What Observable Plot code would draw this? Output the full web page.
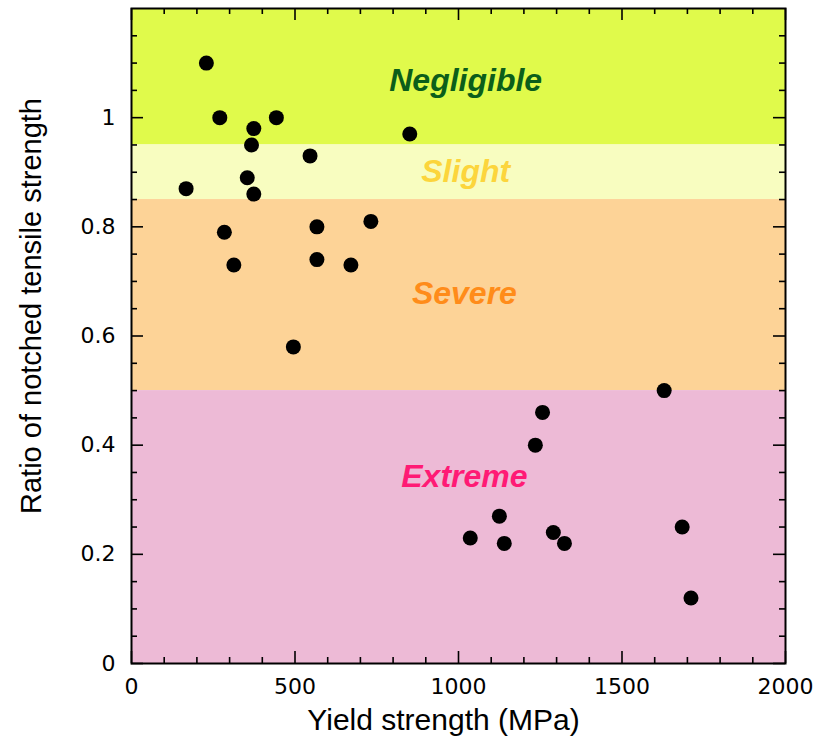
<!DOCTYPE html>
<html>
<head>
<meta charset="utf-8">
<script src="https://cdn.jsdelivr.net/npm/d3@7"></script>
<script src="https://cdn.jsdelivr.net/npm/@observablehq/plot@0.6"></script>
<style>
  html, body { margin: 0; padding: 0; background: #fff; }
  #chart svg { display: block; }
</style>
</head>
<body>
<div id="chart"></div>
<script>
// Data points: yield strength (MPa) vs ratio of notched tensile strength
const yieldStrength = [229, 270, 443, 374, 367, 851, 546, 354, 167, 374, 732, 284, 567, 313, 567, 671, 495,
                       1629, 1257, 1235, 1125, 1036, 1140, 1290, 1324, 1684, 1711];
const notchRatio    = [1.10, 1.00, 1.00, 0.98, 0.95, 0.97, 0.93, 0.89, 0.87, 0.86, 0.81, 0.79, 0.80, 0.73, 0.74, 0.73, 0.58,
                       0.50, 0.46, 0.40, 0.27, 0.23, 0.22, 0.24, 0.22, 0.25, 0.12];

// Sensitivity bands
const bandNames  = ["Negligible", "Slight", "Severe", "Extreme"];
const bandLow    = [0.95, 0.85, 0.50, 0.00];
const bandHigh   = [1.20, 0.95, 0.85, 0.50];
const bandFill   = ["#e0fa4b", "#f8fdc0", "#fdd397", "#edbad6"];
const labelColor = ["#0b5e1a", "#fcd53c", "#ff8c1a", "#ff1a75"];
const labelX     = [1022, 1022, 1018, 1018];
const labelY     = [1.068, 0.901, 0.678, 0.342];

// Ticks
const xMajor = [0, 500, 1000, 1500, 2000];
const xMinor = [100, 200, 300, 400, 600, 700, 800, 900, 1100, 1200, 1300, 1400, 1600, 1700, 1800, 1900];
const yMajor = [0, 0.2, 0.4, 0.6, 0.8, 1];
const yMinor = [0.05, 0.1, 0.15, 0.25, 0.3, 0.35, 0.45, 0.5, 0.55, 0.65, 0.7, 0.75, 0.85, 0.9, 0.95, 1.05, 1.1, 1.15];

const xTitle = "Yield strength (MPa)";
const yTitle = "Ratio of notched tensile strength";

const points = yieldStrength.map((x, i) => ({x, y: notchRatio[i]}));
const bands = bandNames.map((name, i) => ({name, lo: bandLow[i], hi: bandHigh[i], fill: bandFill[i],
  color: labelColor[i], lx: labelX[i], ly: labelY[i]}));

const W = 821, H = 748;
const mL = 131, mR = 36, mT = 8, mB = 85;
const pw = W - mL - mR, ph = H - mT - mB;
const major = 12, minor = 6;
const tickStroke = 1.6;

const chart = Plot.plot({
  width: W,
  height: H,
  marginLeft: mL,
  marginRight: mR,
  marginTop: mT,
  marginBottom: mB,
  style: {color: "#000", background: "#fff", fontFamily: "Liberation Sans, Arial, sans-serif"},
  x: {domain: [0, 2000], axis: null},
  y: {domain: [0, 1.2], axis: null},
  marks: [
    Plot.rect(bands, {y1: "lo", y2: "hi", fill: "fill"}),
    Plot.text(bands, {x: "lx", y: "ly", text: "name", fill: "color", fontSize: 32, fontWeight: "bold",
      fontStyle: "italic", fontFamily: "Liberation Sans, Arial, sans-serif"}),
    // ticks, inward, all four sides
    Plot.tickX(xMajor, {x: d => d, insetTop: ph - major, strokeWidth: tickStroke}),
    Plot.tickX(xMajor, {x: d => d, insetBottom: ph - major, strokeWidth: tickStroke}),
    Plot.tickX(xMinor, {x: d => d, insetTop: ph - minor, strokeWidth: tickStroke}),
    Plot.tickX(xMinor, {x: d => d, insetBottom: ph - minor, strokeWidth: tickStroke}),
    Plot.tickY(yMajor, {y: d => d, insetRight: pw - major, strokeWidth: tickStroke}),
    Plot.tickY(yMajor, {y: d => d, insetLeft: pw - major, strokeWidth: tickStroke}),
    Plot.tickY(yMinor, {y: d => d, insetRight: pw - minor, strokeWidth: tickStroke}),
    Plot.tickY(yMinor, {y: d => d, insetLeft: pw - minor, strokeWidth: tickStroke}),
    Plot.axisX(xMajor, {anchor: "bottom", tickSize: 0, tickPadding: 15, fontSize: 22,
      fontFamily: "DejaVu Sans, sans-serif", label: null, tickFormat: d => String(d)}),
    Plot.axisY(yMajor, {anchor: "left", tickSize: 0, tickPadding: 16, fontSize: 22,
      fontFamily: "DejaVu Sans, sans-serif", label: null, tickFormat: d => String(d)}),
    Plot.dot(points, {x: "x", y: "y", r: 7.5, fill: "#000", stroke: null}),
    Plot.frame({stroke: "#000", strokeWidth: 2}),
    Plot.text([xTitle], {frameAnchor: "bottom", text: d => d, dy: 57, dx: -15, fontSize: 30,
      fill: "#000", lineAnchor: "middle", textAnchor: "middle"}),
    Plot.text([yTitle], {frameAnchor: "left", text: d => d, dx: -100, dy: -30, rotate: -90, fontSize: 29,
      fill: "#000", lineAnchor: "middle", textAnchor: "middle"})
  ]
});
document.getElementById("chart").appendChild(chart);
</script>
</body>
</html>
